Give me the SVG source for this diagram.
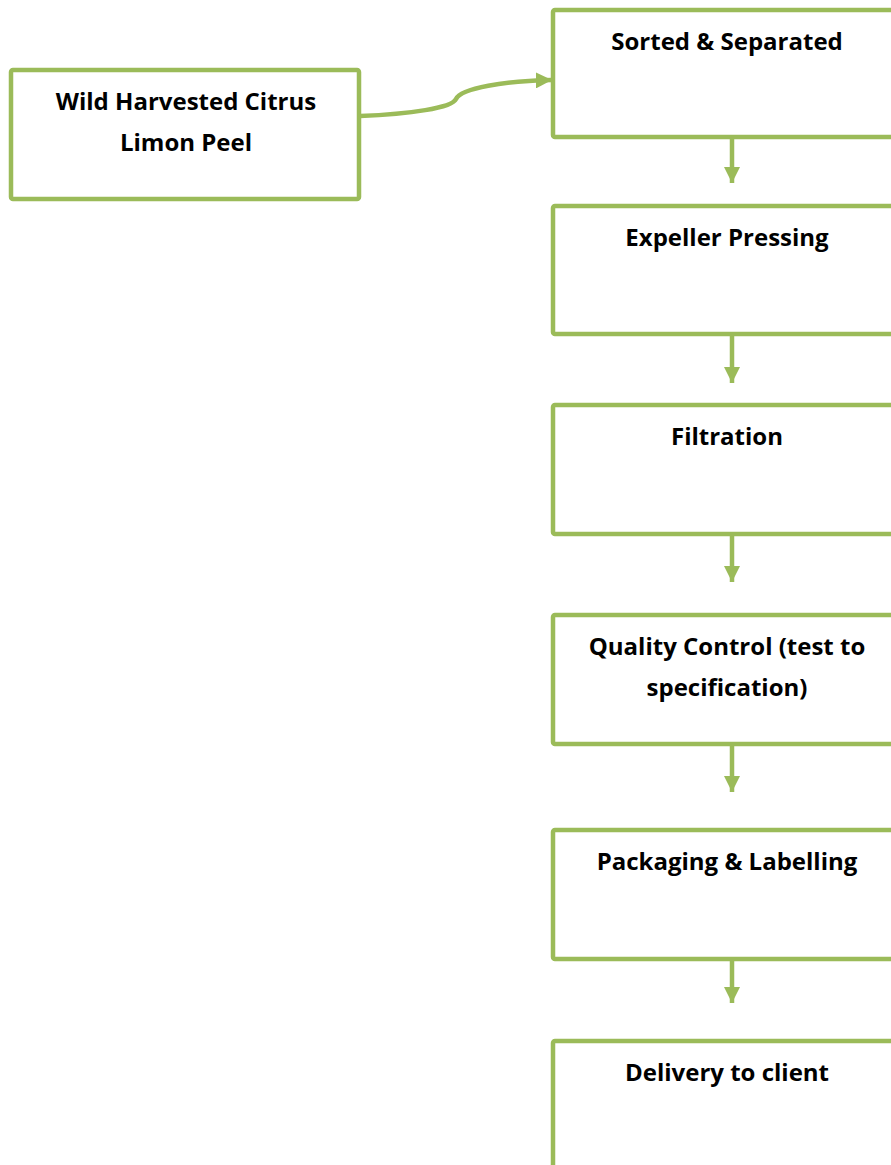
<svg xmlns="http://www.w3.org/2000/svg" width="891" height="1165" viewBox="0 0 891 1165">
<style>
.box{fill:#fff;stroke:#9BBB59;stroke-width:4.5}
.t{font-family:"Open Sans","Liberation Sans",Arial,sans-serif;font-weight:bold;font-size:24px;fill:#000;text-anchor:middle}
.c{fill:none;stroke:#9BBB59;stroke-width:4.5}
</style>
<defs>
<marker id="ah" markerWidth="3.6" markerHeight="3.6" refX="10" refY="5" orient="auto" markerUnits="strokeWidth" viewBox="0 0 10 10">
<path d="M0,0 L10,5 L0,10 Z" fill="#9BBB59"/>
</marker>
</defs>
<rect width="891" height="1165" fill="#fff"/>
<g id="n0"><rect class="box" x="11" y="70" width="348" height="129" rx="2"/><text class="t" x="186" y="110">Wild Harvested Citrus</text><text class="t" x="186" y="151">Limon Peel</text></g>
<g id="n1"><rect class="box" x="553" y="10" width="360" height="127" rx="2"/><text class="t" x="727" y="50">Sorted &amp; Separated</text></g>
<g id="n2"><rect class="box" x="553" y="206" width="360" height="128" rx="2"/><text class="t" x="727" y="246">Expeller Pressing</text></g>
<g id="n3"><rect class="box" x="553" y="405" width="360" height="129" rx="2"/><text class="t" x="727" y="445">Filtration</text></g>
<g id="n4"><rect class="box" x="553" y="615" width="360" height="129" rx="2"/><text class="t" x="727" y="655">Quality Control (test to</text><text class="t" x="727" y="696">specification)</text></g>
<g id="n5"><rect class="box" x="553" y="830" width="360" height="129" rx="2"/><text class="t" x="727" y="870">Packaging &amp; Labelling</text></g>
<g id="n6"><rect class="box" x="553" y="1041" width="360" height="160" rx="2"/><text class="t" x="727" y="1081">Delivery to client</text></g>
<g id="connectors">
<path class="c" d="M360,116 C410,114 452,108 456,99 C461,88 505,81 552,80" marker-end="url(#ah)"/>
<path class="c" d="M732,139 L732,183" marker-end="url(#ah)"/>
<path class="c" d="M732,336 L732,383" marker-end="url(#ah)"/>
<path class="c" d="M732,536 L732,582" marker-end="url(#ah)"/>
<path class="c" d="M732,746 L732,792" marker-end="url(#ah)"/>
<path class="c" d="M732,961 L732,1003" marker-end="url(#ah)"/>
</g>
</svg>
